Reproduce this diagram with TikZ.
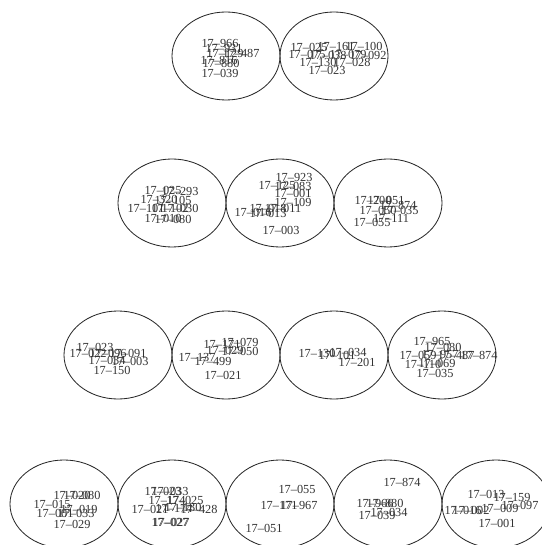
\documentclass[tikz,border=0pt]{standalone}
\usepackage{fontspec}
\setmainfont{Liberation Serif}
\usepackage{tikz}
\usetikzlibrary{shapes.geometric}

\begin{document}
\begin{tikzpicture}[x=0.03cm,y=-0.03cm,
  cluster/.style={draw=black!85,line width=0.7pt,ellipse,minimum width=3.24cm,minimum height=2.64cm,inner sep=0pt},
  lbl/.style={inner sep=0pt,font=\fontsize{10.5}{12}\selectfont,text=black!80}]
  \useasboundingbox (0,0) rectangle (541,545);
  % row 1
  \node[cluster] (c1) at (226,56) {};
  \node[cluster] (c2) at (334,56) {};
  \node[lbl] (a1) at (220,43) {17--966};
  \node[lbl] (a2) at (224,48) {17--931};
  \node[lbl] (a3) at (225,53) {17--129};
  \node[lbl] (a4) at (241,53) {17--487};
  \node[lbl] (a5) at (219,60) {17--816};
  \node[lbl] (a6) at (221,63) {17--880};
  \node[lbl] (a7) at (220,73) {17--039};
  \node[lbl] (b1) at (309,47) {17--025};
  \node[lbl] (b2) at (336,46) {17--161};
  \node[lbl] (b3) at (364,46) {17--100};
  \node[lbl] (b4) at (307,54) {17--075};
  \node[lbl] (b5) at (328,55) {17--038};
  \node[lbl] (b6) at (348,54) {17--079};
  \node[lbl] (b7) at (368,55) {17--092};
  \node[lbl] (b8) at (318,62) {17--130};
  \node[lbl] (b9) at (352,62) {17--028};
  \node[lbl] (b10) at (327,70) {17--023};
  % row 2
  \node[cluster] (c3) at (172,203) {};
  \node[cluster] (c4) at (280,203) {};
  \node[cluster] (c5) at (388,203) {};
  \node[lbl] (d1) at (163,190) {17--025};
  \node[lbl] (d2) at (180,191) {17--293};
  \node[lbl] (d3) at (159,199) {17--320};
  \node[lbl] (d4) at (173,200) {17--105};
  \node[lbl] (d5) at (146,208) {17--101};
  \node[lbl] (d6) at (170,208) {17--102};
  \node[lbl] (d7) at (180,208) {17--030};
  \node[lbl] (d8) at (163,218) {17--010};
  \node[lbl] (d9) at (173,219) {17--080};
  \node[lbl] (f1) at (294,177) {17--923};
  \node[lbl] (f2) at (277,185) {17--125};
  \node[lbl] (f3) at (293,186) {17--083};
  \node[lbl] (f4) at (293,193) {17--001};
  \node[lbl] (f5) at (293,202) {17--109};
  \node[lbl] (f6) at (268,208) {17--018};
  \node[lbl] (f7) at (283,208) {17--011};
  \node[lbl] (f8) at (253,212) {17--016};
  \node[lbl] (f9) at (268,213) {17--013};
  \node[lbl] (f10) at (281,230) {17--003};
  \node[lbl] (g1) at (373,200) {17--200};
  \node[lbl] (g2) at (386,200) {17--051};
  \node[lbl] (g3) at (398,205) {17--874};
  \node[lbl] (g4) at (378,210) {17--050};
  \node[lbl] (g5) at (400,210) {17--035};
  \node[lbl] (g6) at (391,218) {17--111};
  \node[lbl] (g7) at (372,222) {17--055};
  % row 3
  \node[cluster] (c6) at (118,355) {};
  \node[cluster] (c7) at (226,355) {};
  \node[cluster] (c8) at (334,355) {};
  \node[cluster] (c9) at (442,355) {};
  \node[lbl] (h1) at (95,347) {17--023};
  \node[lbl] (h2) at (88,353) {17--022};
  \node[lbl] (h3) at (108,353) {17--096};
  \node[lbl] (h4) at (128,353) {17--091};
  \node[lbl] (h5) at (107,360) {17--034};
  \node[lbl] (h6) at (130,361) {17--003};
  \node[lbl] (h7) at (112,370) {17--150};
  \node[lbl] (k1) at (240,342) {17--079};
  \node[lbl] (k2) at (222,344) {17--171};
  \node[lbl] (k3) at (225,350) {17--029};
  \node[lbl] (k4) at (240,351) {17--050};
  \node[lbl] (k5) at (197,357) {17--137};
  \node[lbl] (k6) at (213,361) {17--499};
  \node[lbl] (k7) at (223,375) {17--021};
  \node[lbl] (m1) at (317,353) {17--130};
  \node[lbl] (m2) at (337,355) {17--101};
  \node[lbl] (m3) at (348,352) {17--034};
  \node[lbl] (m4) at (357,362) {17--201};
  \node[lbl] (n1) at (432,341) {17--965};
  \node[lbl] (n2) at (443,347) {17--080};
  \node[lbl] (n3) at (418,355) {17--059};
  \node[lbl] (n4) at (440,354) {17--957};
  \node[lbl] (n5) at (456,355) {17--487};
  \node[lbl] (n6) at (479,355) {17--874};
  \node[lbl] (n7) at (423,364) {17--110};
  \node[lbl] (n8) at (437,363) {17--069};
  \node[lbl] (n9) at (435,373) {17--035};
  % row 4
  \node[cluster] (c10) at (64,504) {};
  \node[cluster] (c11) at (172,504) {};
  \node[cluster] (c12) at (280,504) {};
  \node[cluster] (c13) at (388,504) {};
  \node[cluster] (c14) at (496,504) {};
  \node[lbl] (p1) at (72,495) {17--020};
  \node[lbl] (p2) at (82,495) {17--080};
  \node[lbl] (p3) at (52,504) {17--015};
  \node[lbl] (p4) at (79,509) {17--019};
  \node[lbl] (p5) at (55,513) {17--001};
  \node[lbl] (p6) at (76,513) {17--033};
  \node[lbl] (p7) at (72,524) {17--029};
  \node[lbl] (q1) at (163,491) {17--023};
  \node[lbl] (q2) at (170,491) {17--033};
  \node[lbl] (q3) at (167,500) {17--174};
  \node[lbl] (q4) at (185,500) {17--025};
  \node[lbl] (q5) at (150,509) {17--021};
  \node[lbl] (q6) at (174,508) {17--174};
  \node[lbl] (q7) at (183,507) {17--130};
  \node[lbl] (q8) at (199,509) {17--428};
  \node[lbl] (q9) at (170,522) {17--027};
  \node[lbl] (q10) at (171,522) {17--027};
  \node[lbl] (r1) at (297,489) {17--055};
  \node[lbl] (r2) at (279,505) {17--171};
  \node[lbl] (r3) at (299,505) {17--967};
  \node[lbl] (r4) at (264,528) {17--051};
  \node[lbl] (s1) at (402,482) {17--874};
  \node[lbl] (s2) at (375,503) {17--966};
  \node[lbl] (s3) at (385,503) {17--880};
  \node[lbl] (s4) at (389,512) {17--034};
  \node[lbl] (s5) at (377,515) {17--039};
  \node[lbl] (t1) at (486,494) {17--013};
  \node[lbl] (t2) at (512,497) {17--159};
  \node[lbl] (t3) at (520,505) {17--097};
  \node[lbl] (t4) at (500,508) {17--009};
  \node[lbl] (t5) at (463,510) {17--016};
  \node[lbl] (t6) at (471,510) {17--002};
  \node[lbl] (t7) at (497,523) {17--001};
\end{tikzpicture}
\end{document}
